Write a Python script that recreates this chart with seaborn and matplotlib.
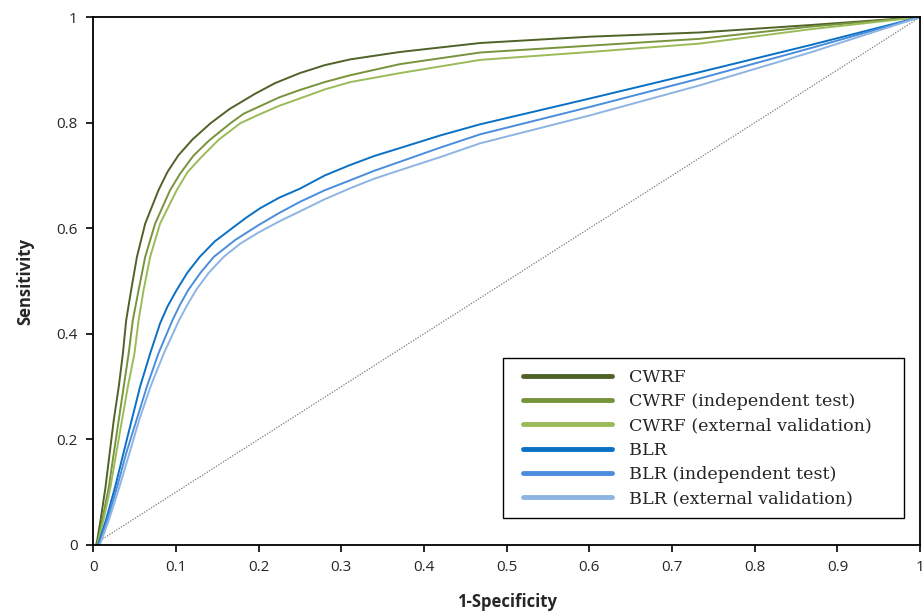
"""ROC curves: CWRF vs BLR, training / independent test / external validation."""

import matplotlib
matplotlib.use("Agg")
import matplotlib.pyplot as plt
import seaborn as sns
from matplotlib.legend_handler import HandlerLine2D
from matplotlib.lines import Line2D
from matplotlib.ticker import FuncFormatter, MultipleLocator

sns.set_theme(style="white")
plt.rcParams["font.family"] = ["Open Sans", "DejaVu Sans"]

# values (1-specificity, sensitivity)
cwrf_fpr = [0.004, 0.009, 0.015, 0.020, 0.025, 0.031, 0.036, 0.040, 0.046, 0.053, 0.063,
            0.079, 0.090, 0.103, 0.120, 0.142, 0.165, 0.196, 0.22, 0.25, 0.28, 0.311, 0.371,
            0.468, 0.601, 0.734, 0.867, 1.0]
cwrf_tpr = [0.0, 0.047, 0.110, 0.174, 0.237, 0.300, 0.363, 0.426, 0.483, 0.546, 0.609,
            0.672, 0.707, 0.738, 0.768, 0.799, 0.826, 0.855, 0.875, 0.894, 0.909, 0.920, 0.934,
            0.951, 0.963, 0.971, 0.985, 1.0]

cwrf_test_fpr = [0.005, 0.011, 0.019, 0.025, 0.031, 0.037, 0.043, 0.048, 0.055, 0.063, 0.075,
                 0.093, 0.105, 0.121, 0.140, 0.166, 0.182, 0.2, 0.225, 0.25, 0.28, 0.311, 0.371,
                 0.468, 0.601, 0.734, 0.867, 1.0]
cwrf_test_tpr = [0.0, 0.047, 0.110, 0.174, 0.237, 0.300, 0.363, 0.426, 0.483, 0.546, 0.609,
                 0.672, 0.703, 0.737, 0.766, 0.799, 0.817, 0.830, 0.848, 0.862, 0.877, 0.890,
                 0.911, 0.933, 0.946, 0.959, 0.982, 1.0]

cwrf_ext_fpr = [0.005, 0.0125, 0.021, 0.028, 0.035, 0.042, 0.050, 0.055, 0.061, 0.069, 0.081,
                0.101, 0.114, 0.131, 0.152, 0.178, 0.2, 0.225, 0.25, 0.28, 0.311, 0.371,
                0.468, 0.601, 0.734, 0.867, 1.0]
cwrf_ext_tpr = [0.0, 0.047, 0.110, 0.174, 0.237, 0.300, 0.363, 0.426, 0.483, 0.546, 0.609,
                0.672, 0.706, 0.735, 0.768, 0.799, 0.815, 0.832, 0.846, 0.863, 0.877, 0.894,
                0.919, 0.934, 0.950, 0.977, 1.0]

blr_fpr = [0.006, 0.0155, 0.0266, 0.0367, 0.0467, 0.0568, 0.069, 0.081, 0.090, 0.101, 0.114,
           0.129, 0.147, 0.168, 0.185, 0.202, 0.225, 0.25, 0.28, 0.311, 0.34, 0.371, 0.42,
           0.468, 0.601, 0.734, 0.867, 1.0]
blr_tpr = [0.0, 0.047, 0.110, 0.174, 0.237, 0.300, 0.363, 0.420, 0.452, 0.483, 0.516,
           0.546, 0.575, 0.600, 0.620, 0.638, 0.658, 0.675, 0.700, 0.720, 0.737, 0.752, 0.776,
           0.797, 0.846, 0.896, 0.947, 1.0]

blr_test_fpr = [0.007, 0.017, 0.029, 0.040, 0.0525, 0.065, 0.079, 0.096, 0.105, 0.115, 0.130,
                0.146, 0.172, 0.2, 0.225, 0.25, 0.28, 0.311, 0.34, 0.371, 0.42, 0.468,
                0.601, 0.734, 0.867, 1.0]
blr_test_tpr = [0.0, 0.047, 0.110, 0.174, 0.237, 0.300, 0.363, 0.426, 0.455, 0.483, 0.516,
                0.546, 0.578, 0.606, 0.629, 0.650, 0.672, 0.691, 0.709, 0.726, 0.753, 0.778,
                0.830, 0.884, 0.941, 1.0]

blr_ext_fpr = [0.008, 0.019, 0.0318, 0.0439, 0.0557, 0.0694, 0.0855, 0.104, 0.114, 0.1245,
               0.140, 0.158, 0.178, 0.2, 0.225, 0.25, 0.28, 0.311, 0.34, 0.371, 0.42, 0.468,
               0.601, 0.734, 0.867, 1.0]
blr_ext_tpr = [0.0, 0.047, 0.110, 0.174, 0.237, 0.300, 0.363, 0.426, 0.455, 0.483,
               0.516, 0.546, 0.571, 0.592, 0.613, 0.632, 0.655, 0.676, 0.694, 0.710, 0.735,
               0.761, 0.814, 0.871, 0.933, 1.0]

chance = [0.0, 1.0]

curves = [
    ("CWRF", cwrf_fpr, cwrf_tpr, "#4f6228"),
    ("CWRF (independent test)", cwrf_test_fpr, cwrf_test_tpr, "#77933c"),
    ("CWRF (external validation)", cwrf_ext_fpr, cwrf_ext_tpr, "#9bbb59"),
    ("BLR", blr_fpr, blr_tpr, "#0a70c4"),
    ("BLR (independent test)", blr_test_fpr, blr_test_tpr, "#4a8ddc"),
    ("BLR (external validation)", blr_ext_fpr, blr_ext_tpr, "#8db4e3"),
]

fig, ax = plt.subplots(figsize=(9.22, 6.12), dpi=100)
fig.subplots_adjust(left=0.101, right=0.998, bottom=0.1095, top=0.972)

sns.lineplot(x=chance, y=chance, ax=ax, color="#7a7a7a", lw=0.9,
             linestyle=(0, (1, 1.2)), legend=False)
for label, fx, ty, col in curves:
    sns.lineplot(x=fx, y=ty, ax=ax, sort=False, estimator=None, color=col,
                 lw=1.4, label=label, solid_joinstyle="round")

ax.set_xlim(0, 1)
ax.set_ylim(0, 1)
ax.xaxis.set_major_locator(MultipleLocator(0.1))
ax.yaxis.set_major_locator(MultipleLocator(0.2))
fmt = FuncFormatter(lambda v, _: f"{v:.1f}".rstrip("0").rstrip(".") if v else "0")
ax.xaxis.set_major_formatter(fmt)
ax.yaxis.set_major_formatter(fmt)
ax.tick_params(axis="both", direction="out", length=5, width=1.2, color="black",
               labelsize=11, bottom=True, left=True, pad=6)
for s in ax.spines.values():
    s.set_color("black")
    s.set_linewidth(1.3)

ax.set_xlabel("1-Specificity", fontweight="bold", fontsize=12, labelpad=13)
ax.set_ylabel("Sensitivity", fontweight="bold", fontsize=12, labelpad=16)

leg = ax.legend(loc="lower left", bbox_to_anchor=(0.496, 0.051, 0.484, 0.3),
                mode="expand", frameon=True, fancybox=False, edgecolor="black",
                framealpha=1, prop={"family": "DejaVu Serif", "size": 12.6},
                handler_map={Line2D: HandlerLine2D(xpad=0.55)},
                handlelength=5.6, handletextpad=1.0, labelspacing=0.42,
                borderpad=0.6, borderaxespad=0)
leg.get_frame().set_linewidth(1.0)
for ln in leg.get_lines():
    ln.set_linewidth(3.5)

fig.savefig("out.png", dpi=100)
